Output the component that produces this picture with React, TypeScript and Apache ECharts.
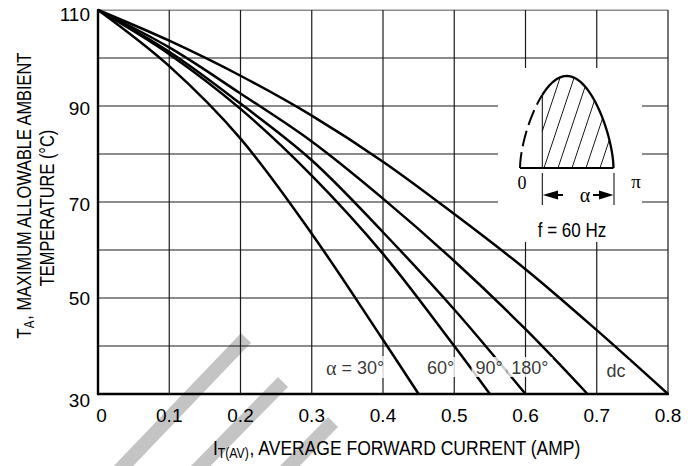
import React, { useEffect, useRef } from 'react';
import * as echarts from 'echarts';

// ---- data ----
const currentTicks = [0, 0.1, 0.2, 0.3, 0.4, 0.5, 0.6, 0.7, 0.8];
const tempTicks = [30, 40, 50, 60, 70, 80, 90, 100, 110];
const tempLabels = [30, 50, 70, 90, 110];
const tempLabelShift = [6, 0, 2, 2, 4];

const dcX = [0, 0.1, 0.2, 0.3, 0.4, 0.5, 0.6, 0.7, 0.8];
const dcT = [110, 103.6, 96.3, 88.0, 78.4, 67.5, 56.0, 43.3, 30];
const a180X = [0, 0.1, 0.2, 0.3, 0.4, 0.5, 0.6, 0.687];
const a180T = [110, 102.2, 92.6, 82.6, 70.7, 57.7, 43.5, 30];
const a90X = [0, 0.1, 0.2, 0.3, 0.4, 0.5, 0.6];
const a90T = [110, 101.3, 90.5, 78.7, 63.7, 47.6, 30];
const a60X = [0, 0.1, 0.2, 0.3, 0.4, 0.5, 0.55];
const a60T = [110, 100.8, 89.4, 75.5, 59.2, 40, 30];
const a30X = [0, 0.1, 0.2, 0.3, 0.4, 0.45];
const a30T = [110, 98.3, 83.2, 63.4, 41.3, 30];

const curveLabels = ['{g|α} = 30°', '60°', '90°', '180°', 'dc'];
const curveLabelX = [0.361, 0.481, 0.549, 0.606, 0.727];
const curveLabelT = [35.6, 35.6, 35.6, 35.6, 35.0];

const SANS = "'Liberation Sans', Arial, sans-serif";
const SERIF = "'Liberation Serif', 'DejaVu Serif', serif";
const NARROW = 0.82;

function lineSeries(name: string, xs: number[], ts: number[]) {
  return {
    type: 'line',
    name,
    data: xs.map((x, i) => [x, ts[i]]),
    smooth: 0.35,
    symbol: 'none',
    showSymbol: false,
    silent: true,
    z: 3,
    lineStyle: { color: '#000', width: 2.5 },
  };
}

function gridSeries(data: number[][]) {
  return {
    type: 'line',
    data,
    symbol: 'none',
    showSymbol: false,
    silent: true,
    z: 1,
    lineStyle: { color: '#1a1a1a', width: 1.2 },
  };
}

function insetElements() {
  const x0 = 520, x1 = 613.5, base = 168, H = 92, p = 0.6;
  const W = x1 - x0;
  const xs = 542.3;
  const yAt = (x: number) => base - H * Math.pow(Math.max(0, Math.sin((Math.PI * (x - x0)) / W)), p);
  const dashPts: number[][] = [];
  for (let x = x0; x <= xs + 0.01; x += 0.25) dashPts.push([x, yAt(x)]);
  const solidPts: number[][] = [];
  for (let x = xs; x <= x1 + 0.001; x += 0.25) solidPts.push([x, yAt(x)]);
  solidPts.push([x1, base]);
  const els: any[] = [];
  els.push({ type: 'rect', z: 50, shape: { x: 498, y: 68, width: 144, height: 174 }, style: { fill: '#fff' } });
  const k = 3;
  for (let h0 = 530; h0 <= 600; h0 += 14) {
    let yStart = base;
    let xStart = h0;
    if (h0 < xs) {
      xStart = xs;
      yStart = base - k * (xs - h0);
    }
    let y = yStart;
    let lastX = xStart, lastY = yStart;
    while (y > 60) {
      const x = h0 + (base - y) / k;
      if (x > x1 || y <= yAt(x)) break;
      lastX = x; lastY = y;
      y -= 0.25;
    }
    if (lastY < yStart - 1) {
      els.push({ type: 'line', z: 51, shape: { x1: xStart, y1: yStart, x2: lastX, y2: lastY }, style: { stroke: '#000', lineWidth: 0.9 } });
    }
  }
  els.push({ type: 'line', z: 51, shape: { x1: xs, y1: base, x2: xs, y2: yAt(xs) }, style: { stroke: '#000', lineWidth: 1 } });
  els.push({ type: 'polyline', z: 52, shape: { points: dashPts }, style: { stroke: '#000', lineWidth: 2, fill: null, lineDash: [16, 6] } });
  els.push({ type: 'polyline', z: 52, shape: { points: solidPts }, style: { stroke: '#000', lineWidth: 2.3, fill: null } });
  els.push({ type: 'line', z: 52, shape: { x1: x0, y1: base, x2: x1, y2: base }, style: { stroke: '#000', lineWidth: 2 } });
  els.push({ type: 'line', z: 52, shape: { x1: xs, y1: 173, x2: xs, y2: 205 }, style: { stroke: '#000', lineWidth: 1 } });
  els.push({ type: 'line', z: 52, shape: { x1: 614, y1: 173, x2: 614, y2: 205 }, style: { stroke: '#000', lineWidth: 1 } });
  els.push({ type: 'polygon', z: 52, shape: { points: [[xs + 0.5, 195], [558, 190.5], [558, 199.5]] }, style: { fill: '#000' } });
  els.push({ type: 'line', z: 52, shape: { x1: 556, y1: 195, x2: 563, y2: 195 }, style: { stroke: '#000', lineWidth: 2 } });
  els.push({ type: 'polygon', z: 52, shape: { points: [[613.5, 195], [599, 190.5], [599, 199.5]] }, style: { fill: '#000' } });
  els.push({ type: 'line', z: 52, shape: { x1: 593, y1: 195, x2: 600, y2: 195 }, style: { stroke: '#000', lineWidth: 2 } });
  els.push({ type: 'text', z: 52, x: 522, y: 183, style: { text: '0', fontFamily: SERIF, fontSize: 18, fill: '#000', align: 'center', verticalAlign: 'middle' } });
  els.push({ type: 'text', z: 52, x: 636, y: 181, style: { text: 'π', fontFamily: SERIF, fontSize: 19, fill: '#000', align: 'center', verticalAlign: 'middle' } });
  els.push({ type: 'text', z: 52, x: 585, y: 195, style: { text: 'α', fontFamily: SERIF, fontSize: 20, fill: '#000', align: 'center', verticalAlign: 'middle' } });
  els.push({ type: 'text', z: 52, x: 572, y: 230, scaleX: 0.85, style: { text: 'f = 60 Hz', fontFamily: SANS, fontSize: 20, fill: '#000', align: 'center', verticalAlign: 'middle' } });
  return els;
}

function band(c1: number[], c2: number[], w: number) {
  const dx = c2[0] - c1[0], dy = c2[1] - c1[1];
  const L = Math.hypot(dx, dy);
  const nx = -dy / L * w, ny = dx / L * w;
  return {
    type: 'polygon',
    z: -1,
    shape: { points: [[c1[0] + nx, c1[1] + ny], [c2[0] + nx, c2[1] + ny], [c2[0] - nx, c2[1] - ny], [c1[0] - nx, c1[1] - ny]] },
    style: { fill: '#c4c4c4' },
  };
}

export default function App() {
  const ref = useRef<HTMLDivElement>(null);
  useEffect(() => {
    if (!ref.current) return;
    const chart = echarts.init(ref.current, undefined, { renderer: 'svg' });
    const yRich: any = {};
    tempLabels.forEach((t, i) => {
      yRich['t' + t] = { fontFamily: SANS, fontSize: 19, color: '#000', padding: [tempLabelShift[i] * 2, 0, 0, 0] };
    });
    const xMin = currentTicks[0], xMax = currentTicks[currentTicks.length - 1];
    const yMin = tempTicks[0], yMax = tempTicks[tempTicks.length - 1];
    const gridLines: any[] = [
      ...currentTicks.filter((v) => v > xMin).map((v) => gridSeries([[v, yMin], [v, yMax]])),
      ...tempTicks.filter((v) => v > yMin).map((v) => gridSeries([[xMin, v], [xMax, v]])),
    ];
    const option: any = {
      animation: false,
      grid: { left: 98, right: 25, top: 10, bottom: 72, containLabel: false },
      xAxis: {
        type: 'value', min: xMin, max: xMax, interval: 0.1,
        axisLine: { show: true, onZero: false, lineStyle: { color: '#000', width: 2.4 } },
        axisTick: { show: false },
        splitLine: { show: false },
        axisLabel: {
          color: '#000', fontFamily: SANS, fontSize: 19, margin: 12,
          formatter: (v: number) => {
            const t = currentTicks.find((c) => Math.abs(c - v) < 1e-6);
            if (t === undefined) return '';
            return t === 0 ? '{z|0}' : t.toFixed(1);
          },
          rich: { z: { fontFamily: SANS, fontSize: 19, color: '#000', padding: [0, 0, 0, 7] } },
        },
      },
      yAxis: {
        type: 'value', min: yMin, max: yMax, interval: 10,
        axisLine: { show: true, onZero: false, lineStyle: { color: '#000', width: 2.4 } },
        axisTick: { show: false },
        splitLine: { show: false },
        axisLabel: {
          color: '#000', fontFamily: SANS, fontSize: 19, margin: 8,
          formatter: (v: number) => {
            const t = tempLabels.find((c) => Math.abs(c - v) < 1e-6);
            return t === undefined ? '' : '{t' + t + '|' + t + '}';
          },
          rich: yRich,
        },
      },
      series: [
        ...gridLines,
        lineSeries('α = 30°', a30X, a30T),
        lineSeries('60°', a60X, a60T),
        lineSeries('90°', a90X, a90T),
        lineSeries('180°', a180X, a180T),
        lineSeries('dc', dcX, dcT),
        {
          type: 'scatter',
          silent: true,
          z: 10,
          symbolSize: 1,
          itemStyle: { color: 'rgba(0,0,0,0)' },
          data: curveLabelX.map((x, i) => ({ value: [x, curveLabelT[i]], label: { formatter: curveLabels[i] } })),
          label: {
            show: true, position: 'inside', color: '#000', fontFamily: SANS, fontSize: 18,
            backgroundColor: '#fff', padding: [2, 4, 0, 4],
            rich: { g: { fontFamily: SERIF, fontSize: 20, color: '#000' } },
          },
        },
      ],
      graphic: [
        band([246, 338], [110, 480], 7),
        band([283, 382], [187, 480], 7),
        band([333, 422], [276, 480], 7),
        ...insetElements(),
        {
          type: 'text', z: 60, x: 397, y: 448, scaleX: 0.875,
          style: {
            text: 'I{s|T(AV)}, AVERAGE FORWARD CURRENT (AMP)',
            fontFamily: SANS, fontSize: 20, fill: '#000', align: 'center', verticalAlign: 'middle',
            rich: { s: { fontFamily: SANS, fontSize: 14, fill: '#000', padding: [10, 0, 0, 0] } },
          },
        },
        {
          type: 'text', z: 60, x: 24, y: 195, rotation: Math.PI / 2, scaleX: NARROW,
          style: {
            text: 'T{s|A}, MAXIMUM ALLOWABLE AMBIENT',
            fontFamily: SANS, fontSize: 20, fill: '#000', align: 'center', verticalAlign: 'middle',
            rich: { s: { fontFamily: SANS, fontSize: 14, fill: '#000', padding: [10, 0, 0, 0] } },
          },
        },
        {
          type: 'text', z: 60, x: 47, y: 208, rotation: Math.PI / 2, scaleX: NARROW,
          style: {
            text: 'TEMPERATURE (°C)',
            fontFamily: SANS, fontSize: 20, fill: '#000', align: 'center', verticalAlign: 'middle',
          },
        },
      ],
    };
    chart.setOption(option);
    return () => chart.dispose();
  }, []);
  return <div ref={ref} style={{ position: 'absolute', left: 0, top: 0, width: 693, height: 466 }} />;
}
